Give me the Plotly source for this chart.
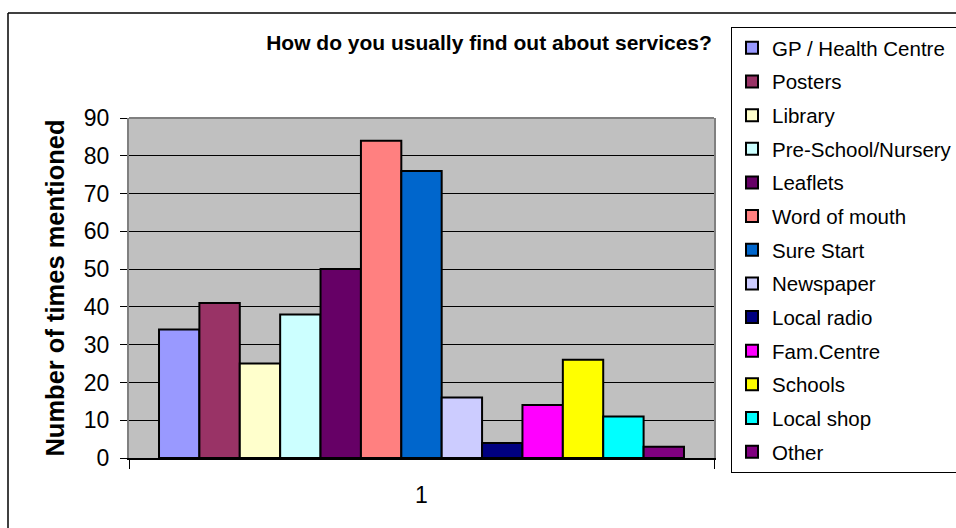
import plotly.graph_objects as go

categories = ["1"]
series_names = ["GP / Health Centre", "Posters", "Library", "Pre-School/Nursery", "Leaflets",
                "Word of mouth", "Sure Start", "Newspaper", "Local radio", "Fam.Centre",
                "Schools", "Local shop", "Other"]
series_values = [34, 41, 25, 38, 50, 84, 76, 16, 4, 14, 26, 11, 3]
series_colors = ["#9999FF", "#993366", "#FFFFCC", "#CCFFFF", "#660066", "#FF8080", "#0066CC",
                 "#CCCCFF", "#000080", "#FF00FF", "#FFFF00", "#00FFFF", "#800080"]
y_ticks = list(range(0, 91, 10))

FONT = "Liberation Sans, Arial, sans-serif"

fig = go.Figure()
for i, (name, val, col) in enumerate(zip(series_names, series_values, series_colors)):
    fig.add_trace(go.Bar(
        x=categories, y=[val], name=name, legendgroup=f"g{i}",
        marker=dict(color=col, line=dict(color="black", width=2)),
    ))

# pixel helpers for decorations
L, R, T, B = 129, 714, 118, 458
def px(x):
    return (x - L) / (R - L)
def py(y):
    return (B - y) / (B - T)

fig.update_layout(
    width=956, height=528,
    margin=dict(l=L, r=956 - R, t=T, b=528 - B, autoexpand=False),
    paper_bgcolor="white", plot_bgcolor="#C0C0C0",
    font=dict(family=FONT, color="black"),
    barmode="group", bargap=0.1026, bargroupgap=0,
    showlegend=True,
    title=dict(text="<b>How do you usually find out about services?</b>",
               font=dict(size=21, family=FONT, color="black"),
               xref="paper", x=px(489), xanchor="center",
               yref="container", y=1 - 43 / 528, yanchor="middle"),
    legend=dict(x=px(731), y=py(27), xanchor="left", yanchor="top",
                bordercolor="black", borderwidth=1, bgcolor="white",
                font=dict(size=20.5, family=FONT, color="black"),
                tracegroupgap=4, itemwidth=30, traceorder="grouped",
                maxheight=700),
    xaxis=dict(type="category", range=[-0.5, 0.5], showgrid=False,
               showline=True, linecolor="black", linewidth=2,
               ticks="outside", tickson="boundaries", ticklen=9, tickcolor="black", tickwidth=1,
               tickfont=dict(size=23, family=FONT, color="black"),
               ticklabelstandoff=15),
    yaxis=dict(range=[0, 90], tickvals=y_ticks, showgrid=True, gridcolor="black", gridwidth=1,
               showline=True, linecolor="#808080", linewidth=2, mirror=True,
               ticks="outside", ticklen=7, tickcolor="black", tickwidth=1,
               tickfont=dict(size=23, family=FONT, color="black"),
               ticklabelstandoff=6,
               zeroline=False,
               title=dict(text="<b>Number of times mentioned</b>",
                          font=dict(size=25.5, family=FONT, color="black"), standoff=12)),
    shapes=[
        dict(type="line", xref="paper", yref="paper", x0=0, x1=1, y0=1, y1=1,
             line=dict(color="#808080", width=2)),
        dict(type="line", xref="paper", yref="paper", x0=px(8), x1=px(956), y0=py(13), y1=py(13),
             line=dict(color="black", width=1.5)),
        dict(type="line", xref="paper", yref="paper", x0=px(8), x1=px(8), y0=py(13), y1=py(528),
             line=dict(color="black", width=1.5)),
    ],
)

fig.write_html("out.html", config={"displayModeBar": False})
